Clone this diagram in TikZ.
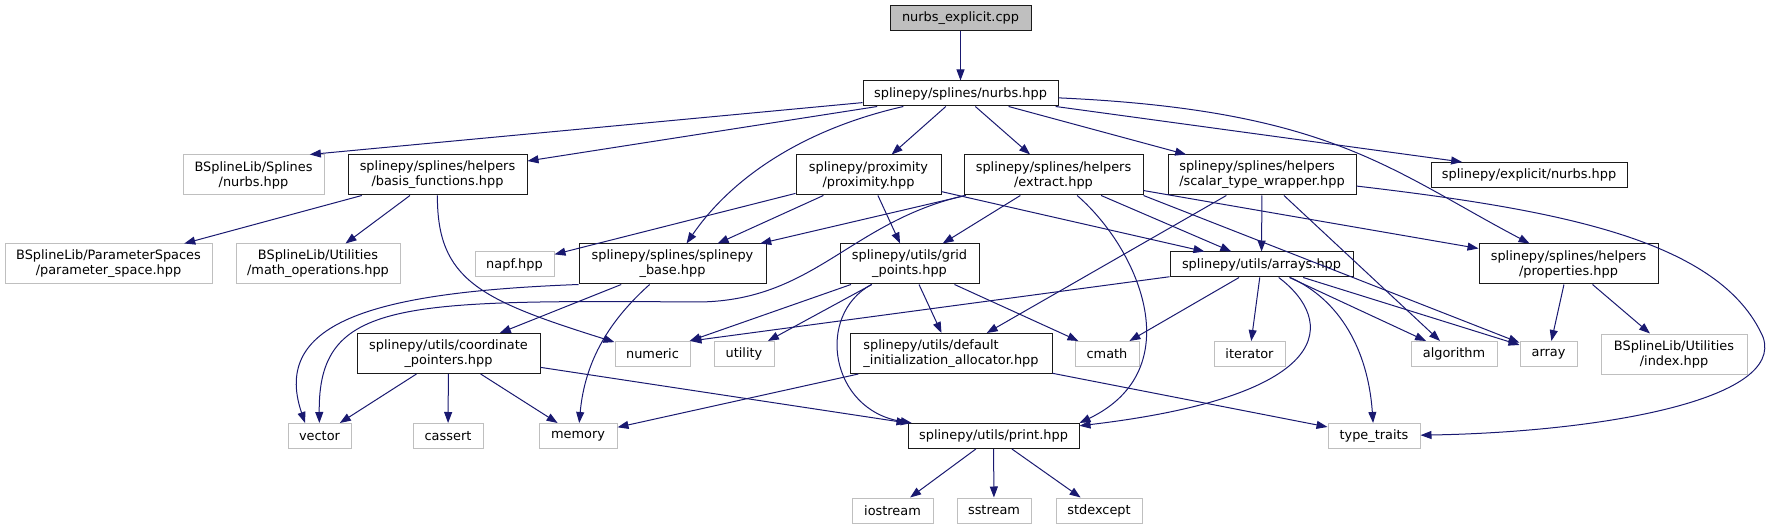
\documentclass[tikz,border=0pt]{standalone}
\usepackage{fontspec}
\setmainfont{DejaVu Sans}
\usetikzlibrary{arrows.meta}

\begin{document}
\begin{tikzpicture}[x=1pt, y=-1pt,
    file/.style={rectangle, draw=borderColour, line width=1pt, inner sep=0pt,
        minimum height=25pt, align=center, font=\fontsize{12.9}{15}\selectfont},
    ext/.style={file, draw=extColour},
    twoline/.style={minimum height=40pt},
    dep/.style={draw=edgeColour, line width=1pt, -{Triangle[length=11pt, width=8pt]}}]

    \definecolor{borderColour}{HTML}{1A1A1A}
    \definecolor{extColour}{HTML}{BFBFBF}
    \definecolor{fillColour}{HTML}{BFBFBF}
    \definecolor{edgeColour}{HTML}{191970}

    \useasboundingbox (0,0) rectangle (1772,529);

    % Source file and the header it includes
    \node[file, fill=fillColour, minimum width=141] (cpp) at (960.5,18.5) {nurbs\_explicit.cpp};
    \node[file, minimum width=195] (nurbs) at (960.5,93.5) {splinepy/splines/nurbs.hpp};

    % Second row
    \node[ext, twoline, minimum width=141] (bsplNurbs) at (253.5,175) {BSplineLib/Splines\\/nurbs.hpp};
    \node[file, twoline, minimum width=179] (basis) at (437.5,175) {splinepy/splines/helpers\\/basis\_functions.hpp};
    \node[file, twoline, minimum width=145] (prox) at (868.5,175) {splinepy/proximity\\/proximity.hpp};
    \node[file, twoline, minimum width=179] (extract) at (1053.5,175) {splinepy/splines/helpers\\/extract.hpp};
    \node[file, twoline, align=left, minimum width=188] (scalar) at (1262,175) {splinepy/splines/helpers\\/scalar\_type\_wrapper.hpp};
    \node[file, minimum width=196] (explicit) at (1529,175) {splinepy/explicit/nurbs.hpp};

    % Third row
    \node[ext, twoline, minimum width=207] (param) at (108.5,264) {BSplineLib/ParameterSpaces\\/parameter\_space.hpp};
    \node[ext, twoline, minimum width=164] (mathOps) at (318,264) {BSplineLib/Utilities\\/math\_operations.hpp};
    \node[ext, minimum width=79] (napf) at (514.5,264.5) {napf.hpp};
    \node[file, twoline, minimum width=187] (base) at (672.5,264) {splinepy/splines/splinepy\\\_base.hpp};
    \node[file, twoline, minimum width=139] (grid) at (909.5,264) {splinepy/utils/grid\\\_points.hpp};
    \node[file, minimum width=183] (arrays) at (1261.5,264.5) {splinepy/utils/arrays.hpp};
    \node[file, twoline, minimum width=179] (props) at (1568.5,264) {splinepy/splines/helpers\\/properties.hpp};

    % Fourth row
    \node[file, twoline, minimum width=183] (coord) at (448.5,353.5) {splinepy/utils/coordinate\\\_pointers.hpp};
    \node[ext, minimum width=75] (numeric) at (652.5,354) {numeric};
    \node[ext, minimum width=60] (utility) at (744,354) {utility};
    \node[file, twoline, align=left, minimum width=202] (defInit) at (951,353.5) {splinepy/utils/default\\\_initialization\_allocator.hpp};
    \node[ext, minimum width=64] (cmath) at (1107,354) {cmath};
    \node[ext, minimum width=71] (iterator) at (1249.5,354) {iterator};
    \node[ext, minimum width=86] (algorithm) at (1454,354) {algorithm};
    \node[ext, minimum width=57] (array) at (1548.5,354) {array};
    \node[ext, twoline, minimum width=146] (index) at (1674,354) {BSplineLib/Utilities\\/index.hpp};

    % Fifth row
    \node[ext, minimum width=63] (vector) at (319.5,436) {vector};
    \node[ext, minimum width=70] (cassert) at (448,436) {cassert};
    \node[ext, minimum width=78] (memory) at (578,436) {memory};
    \node[file, minimum width=171] (print) at (993.5,436) {splinepy/utils/print.hpp};
    \node[ext, minimum width=92] (typeTraits) at (1374,436) {type\_traits};

    % Bottom row
    \node[ext, minimum width=81] (iostream) at (892.5,510.5) {iostream};
    \node[ext, minimum width=74] (sstream) at (994,510.5) {sstream};
    \node[ext, minimum width=86] (stdexcept) at (1099,510.5) {stdexcept};

    % Includes of the source file
    \draw[dep] (cpp) -- (nurbs);

    % Includes of nurbs.hpp
    \draw[dep] (nurbs) -- (bsplNurbs.20);
    \draw[dep] (nurbs) -- (basis);
    \draw[dep] (nurbs) .. controls (800,130) and (730,180) .. (base);
    \draw[dep] (nurbs) -- (prox);
    \draw[dep] (nurbs) -- (extract);
    \draw[dep] (nurbs) -- (scalar);
    \draw[dep] (nurbs) -- (explicit.169);
    \draw[dep] (nurbs) .. controls (1330,110) and (1390,170) .. (props);

    % Includes of basis_functions.hpp
    \draw[dep] (basis) -- (param);
    \draw[dep] (basis) -- (mathOps);
    \draw[dep] (basis) .. controls (437,280) and (480,300) .. (numeric);

    % Includes of proximity.hpp
    \draw[dep] (prox) -- (napf);
    \draw[dep] (prox) -- (base);
    \draw[dep] (prox) -- (grid);
    \draw[dep] (prox) -- (arrays);

    % Includes of extract.hpp
    \draw[dep] (extract) -- (base);
    \draw[dep] (extract) .. controls (850,222) and (815,300) .. (700,302)
        .. controls (400,300) and (318,300) .. (vector);
    \draw[dep] (extract) -- (grid);
    \draw[dep] (extract) -- (arrays);
    \draw[dep] (extract) .. controls (1140,250) and (1190,370) .. (print.north east);
    \draw[dep] (extract) -- (props);
    \draw[dep] (extract.south east) -- (array);

    % Includes of scalar_type_wrapper.hpp
    \draw[dep] (scalar) -- (defInit);
    \draw[dep] (scalar) -- (arrays);
    \draw[dep] (scalar) -- (algorithm);
    \draw[dep] (scalar) .. controls (1560,210) and (1720,240) .. (1763,337)
        .. controls (1785,400) and (1600,432) .. (typeTraits);

    % Includes of splinepy_base.hpp
    \draw[dep] (base.south west) .. controls (380,292) and (270,320) .. (vector.138);
    \draw[dep] (base) -- (coord);
    \draw[dep] (base) .. controls (610,320) and (585,360) .. (memory);

    % Includes of grid_points.hpp
    \draw[dep] (grid) -- (numeric);
    \draw[dep] (grid) -- (utility);
    \draw[dep] (grid) .. controls (815,315) and (830,410) .. (print);
    \draw[dep] (grid) -- (defInit);
    \draw[dep] (grid) -- (cmath);

    % Includes of arrays.hpp
    \draw[dep] (arrays) -- (numeric.north east);
    \draw[dep] (arrays) -- (cmath);
    \draw[dep] (arrays) -- (iterator);
    \draw[dep] (arrays) .. controls (1335,320) and (1340,395) .. (print);
    \draw[dep] (arrays) .. controls (1340,300) and (1368,350) .. (typeTraits);
    \draw[dep] (arrays) -- (algorithm);
    \draw[dep] (arrays) -- (array);

    % Includes of properties.hpp
    \draw[dep] (props) -- (array);
    \draw[dep] (props) -- (index);

    % Includes of coordinate_pointers.hpp
    \draw[dep] (coord) -- (vector);
    \draw[dep] (coord) -- (cassert);
    \draw[dep] (coord) -- (memory);
    \draw[dep] (coord) -- (print);

    % Includes of default_initialization_allocator.hpp
    \draw[dep] (defInit) -- (memory);
    \draw[dep] (defInit) -- (typeTraits);

    % Includes of print.hpp
    \foreach \target in {iostream,sstream,stdexcept}
        \draw[dep] (print) -- (\target);

\end{tikzpicture}
\end{document}
